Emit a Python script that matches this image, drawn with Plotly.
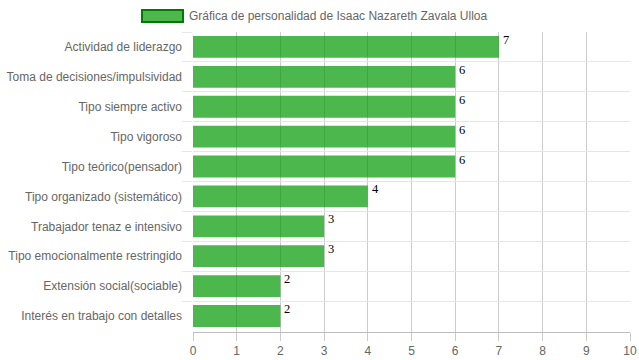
import plotly.graph_objects as go

categories = [
    "Actividad de liderazgo",
    "Toma de decisiones/impulsividad",
    "Tipo siempre activo",
    "Tipo vigoroso",
    "Tipo teórico(pensador)",
    "Tipo organizado (sistemático)",
    "Trabajador tenaz e intensivo",
    "Tipo emocionalmente restringido",
    "Extensión social(sociable)",
    "Interés en trabajo con detalles",
]
values = [7, 6, 6, 6, 6, 4, 3, 3, 2, 2]
series_name = "Gráfica de personalidad de Isaac Nazareth Zavala Ulloa"
x_ticks = list(range(0, 11))

W, H = 639, 360
L, R, T, B = 193, 9, 32, 28
pw, ph = W - L - R, H - T - B

def px_x(p):
    return (p - L) / pw

def px_y(p):
    return 1 - (p - T) / ph

fig = go.Figure()
fig.add_trace(go.Bar(
    x=values, y=categories, orientation="h",
    marker=dict(color="rgba(0,153,0,0.7)", line=dict(width=0)),
    width=0.73, showlegend=False, name=series_name, hoverinfo="skip",
))

annotations = [
    dict(x=v, y=c, xref="x", yref="y", text=str(v), showarrow=False,
         xanchor="left", yanchor="middle", xshift=2, yshift=7,
         font=dict(family="Liberation Serif, serif", size=12.5, color="#000"))
    for c, v in zip(categories, values)
]
annotations.append(dict(
    x=px_x(187), y=px_y(15.5), xref="paper", yref="paper", text=series_name,
    showarrow=False, xanchor="left", yanchor="middle",
    font=dict(family="Liberation Sans, Arial, sans-serif", size=12, color="#666")))

shapes = [dict(
    type="rect", xref="paper", yref="paper",
    x0=px_x(142), x1=px_x(183), y0=px_y(10), y1=px_y(22),
    fillcolor="rgba(0,153,0,0.7)", line=dict(color="#007a00", width=2))]

fig.update_layout(
    width=W, height=H,
    margin=dict(l=L, r=R, t=T, b=B, pad=0, autoexpand=False),
    paper_bgcolor="white", plot_bgcolor="white",
    font=dict(family="Liberation Sans, Arial, sans-serif", size=12, color="#666"),
    xaxis=dict(range=[0, 10], tickvals=x_ticks, showgrid=True, automargin=False,
               gridcolor="#cccccc", gridwidth=1, zeroline=False,
               showline=True, linecolor="#bdbdbd", ticks="outside", ticklen=8,
               tickcolor="#cccccc", ticklabelstandoff=0,
               tickfont=dict(size=12, color="#666"), fixedrange=True),
    yaxis=dict(type="category", categoryorder="array", categoryarray=categories,
               autorange="reversed", tickson="boundaries", showgrid=True,
               automargin=False, ticklabelstandoff=10,
               gridcolor="#e6e6e6", ticks="outside", ticklen=10,
               tickcolor="#e6e6e6", showline=False, zeroline=False,
               tickfont=dict(size=12, color="#666"), fixedrange=True),
    bargap=0.27,
    annotations=annotations,
    shapes=shapes,
    showlegend=False,
)

fig.write_html("out.html", config={"displayModeBar": False, "staticPlot": True},
               post_script="document.body.style.margin='0';")
